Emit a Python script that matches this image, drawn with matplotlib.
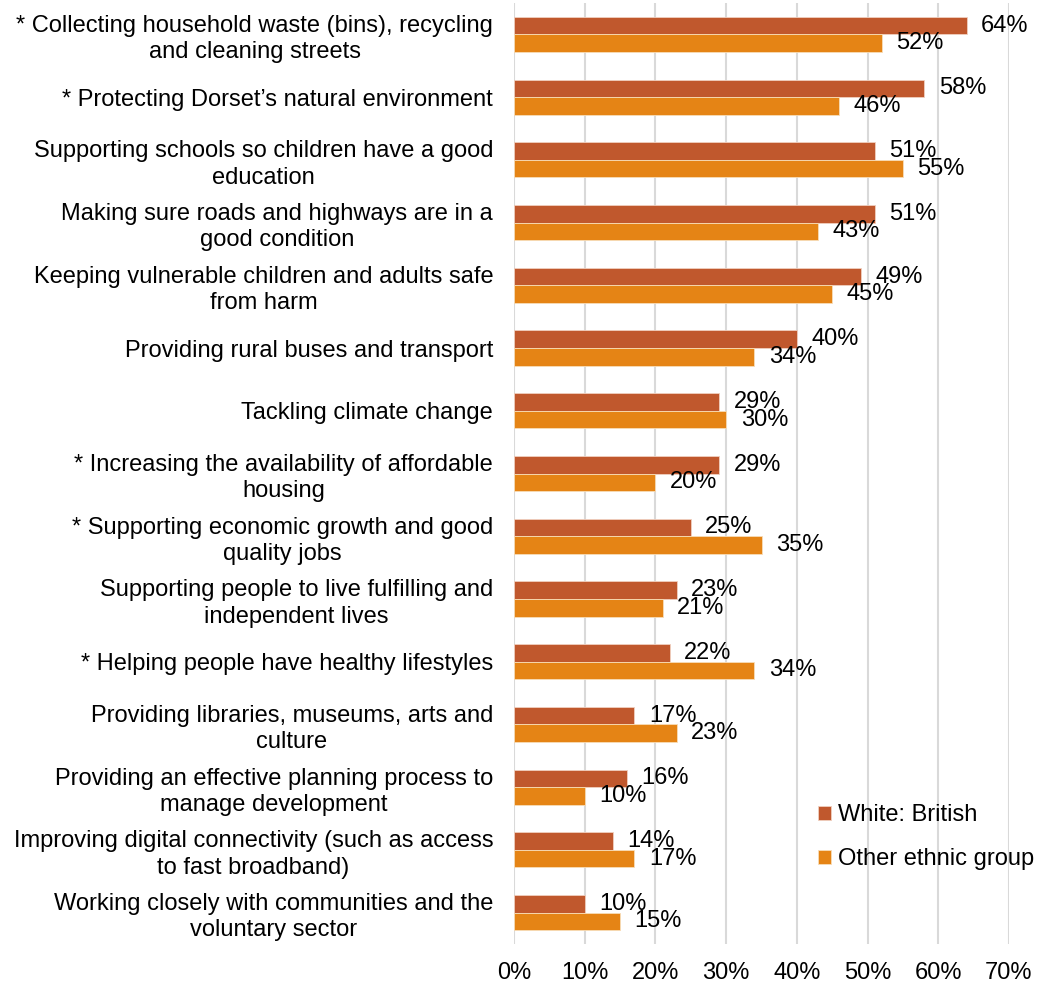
import matplotlib
matplotlib.use("Agg")
import matplotlib.pyplot as plt
import numpy as np

plt.rcParams['font.family'] = ['Liberation Sans', 'DejaVu Sans']

categories = [
    "* Collecting household waste (bins), recycling\nand cleaning streets",
    "* Protecting Dorset\u2019s natural environment",
    "Supporting schools so children have a good\neducation",
    "Making sure roads and highways are in a\ngood condition",
    "Keeping vulnerable children and adults safe\nfrom harm",
    "Providing rural buses and transport",
    "Tackling climate change",
    "* Increasing the availability of affordable\nhousing",
    "* Supporting economic growth and good\nquality jobs",
    "Supporting people to live fulfilling and\nindependent lives",
    "* Helping people have healthy lifestyles",
    "Providing libraries, museums, arts and\nculture",
    "Providing an effective planning process to\nmanage development",
    "Improving digital connectivity (such as access\nto fast broadband)",
    "Working closely with communities and the\nvoluntary sector",
]
white_british = [64, 58, 51, 51, 49, 40, 29, 29, 25, 23, 22, 17, 16, 14, 10]
other_ethnic = [52, 46, 55, 43, 45, 34, 30, 20, 35, 21, 34, 23, 10, 17, 15]
series_names = ["White: British", "Other ethnic group"]
x_ticks = [0, 10, 20, 30, 40, 50, 60, 70]

RED = "#C0582D"
ORANGE = "#E58415"
FS = 17

fig = plt.figure(figsize=(10.37, 9.85), dpi=100)
ax = fig.add_axes([514 / 1037, 1 - 944 / 985, (1009 - 514) / 1037, (944 - 3) / 985])

y = np.arange(len(categories))
h = 0.28
b1 = ax.barh(y - h / 2, white_british, height=h, color=RED, edgecolor="#F0D0C0",
             linewidth=0.6, label=series_names[0], zorder=3)
b2 = ax.barh(y + h / 2, other_ethnic, height=h, color=ORANGE, edgecolor="#F8DDB8",
             linewidth=0.6, label=series_names[1], zorder=3)

for bars, vals in ((b1, white_british), (b2, other_ethnic)):
    for rect, v in zip(bars, vals):
        ax.annotate(f"{v}%", xy=(v, rect.get_y() + rect.get_height() / 2),
                    xytext=(10.5, 0), textcoords="offset points",
                    ha="left", va="center", fontsize=FS, color="#000000", zorder=4)

ax.set_xlim(0, 70)
ax.set_ylim(len(categories) - 0.5, -0.5)
ax.set_xticks(x_ticks)
ax.set_xticklabels([f"{t}%" for t in x_ticks], fontsize=FS)
ax.set_yticks(y)
ax.set_yticklabels(categories, fontsize=FS)
for lbl in ax.get_yticklabels():
    lbl.set_multialignment("center")
    lbl.set_linespacing(1.25)

ax.tick_params(axis="both", length=0)
ax.tick_params(axis="y", pad=15)
ax.tick_params(axis="x", pad=13)
for s in ax.spines.values():
    s.set_visible(False)
ax.xaxis.grid(True, color="#D9D9D9", linewidth=1.5, zorder=0)
ax.yaxis.grid(False)
ax.set_axisbelow(True)

ax.legend(loc="upper left", bbox_to_anchor=(818 / 1037, 1 - 804 / 985),
          bbox_transform=fig.transFigure, frameon=False, fontsize=FS,
          handlelength=0.55, handleheight=0.55, handletextpad=0.3,
          labelspacing=0.95, borderpad=0, borderaxespad=0)

fig.savefig("out.png", dpi=100)
